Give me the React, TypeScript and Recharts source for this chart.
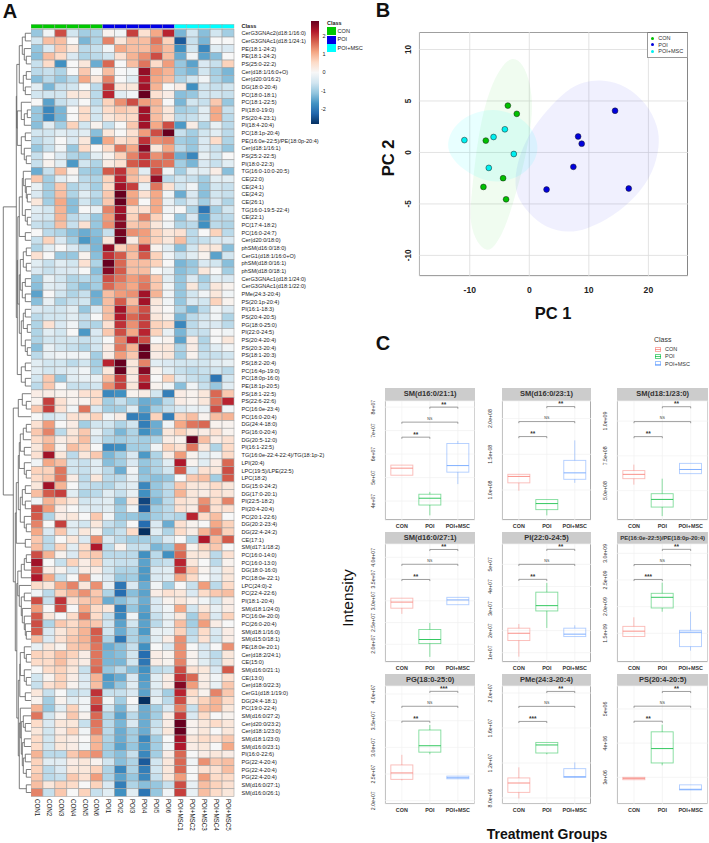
import { Bar, CartesianGrid, ComposedChart, ReferenceLine, Scatter, ScatterChart, XAxis, YAxis } from "recharts";

const FONT = "'Liberation Sans', Arial, sans-serif";

// ---------- A: heatmap ----------
const sampleNames = ["CON1", "CON2", "CON3", "CON4", "CON5", "CON6", "POI1", "POI2", "POI3", "POI4", "POI5", "POI6", "POI+MSC1", "POI+MSC2", "POI+MSC3", "POI+MSC4", "POI+MSC5"];
const sampleClasses = ["CON", "CON", "CON", "CON", "CON", "CON", "POI", "POI", "POI", "POI", "POI", "POI", "MSC", "MSC", "MSC", "MSC", "MSC"];
const classColors: Record<string, string> = { CON: "#00C800", POI: "#0000E6", MSC: "#00FFFF" };
const rdBu = ["#053061", "#2166AC", "#4393C3", "#92C5DE", "#D1E5F0", "#F7F7F7", "#FDDBC7", "#F4A582", "#D6604D", "#B2182B", "#67001F"];

const rowLabels = [
  "CerG3GNAc2(d18:1/16:0)", "CerG3GNAc1(d18:1/24:1)", "PE(18:1-24:2)", "PE(18:1-24:2)", "PS(25:0-22:2)", "Cer(d18:1/16:0+O)", "Cer(d20:0/16:2)", "DG(18:0-20:4)", "PC(18:0-18:1)", "PC(18:1-22:5)",
  "PI(18:0-19:0)", "PS(20:4-23:1)", "PI(18:4-20:4)", "PC(18:1p-20:4)", "PE(16:0e-22:5)/PE(18:0p-20:4)", "Cer(d18:1/16:1)", "PS(25:2-22:5)", "PI(18:0-22:3)", "TG(16:0-10:0-20:5)", "CE(22:0)",
  "CE(24:1)", "CE(24:2)", "CE(26:1)", "TG(16:0-19:5-22:4)", "CE(22:1)", "PC(17:4-18:2)", "PC(16:0-24:7)", "Cer(d20:0/18:0)", "phSM(d16:0/18:0)", "CerG1(d18:1/16:0+O)",
  "phSM(d18:0/16:1)", "phSM(d18:0/18:1)", "CerG3GNAc1(d18:1/24:0)", "CerG3GNAc1(d18:1/22:0)", "PMe(24:3-20:4)", "PS(20:1p-20:4)", "PI(16:1-18:3)", "PS(20:4-20:5)", "PG(18:0-25:0)", "PI(22:0-24:5)",
  "PS(20:4-20:4)", "PS(20:3-20:4)", "PS(18:1-20:3)", "PS(18:2-20:4)", "PC(16:4p-19:0)", "PC(18:0p-16:0)", "PE(18:1p-20:5)", "PS(18:1-22:5)", "PS(22:6-22:6)", "PC(16:0e-23:4)",
  "PC(16:0-20:4)", "DG(24:4-18:0)", "PG(16:0-20:4)", "DG(20:5-12:0)", "PI(16:1-22:5)", "TG(16:0e-22:4-22:4)/TG(18:1p-2)", "LPI(20:4)", "LPC(19:5)/LPE(22:5)", "LPC(18:2)", "DG(15:0-24:2)",
  "DG(17:0-20:1)", "PI(22:5-18:2)", "PI(20:4-20:4)", "PC(20:1-22:6)", "DG(20:2-23:4)", "DG(22:4-24:2)", "CE(17:1)", "SM(d17:1/18:2)", "PC(16:0-14:0)", "PC(16:0-13:0)",
  "DG(18:0-16:0)", "PC(18:0e-22:1)", "LPC(24:0)-2", "PC(22:4-22:6)", "PI(18:1-20:4)", "SM(d18:1/24:0)", "PC(16:0e-20:0)", "PC(26:0-20:4)", "SM(d18:1/16:0)", "SM(d15:0/18:1)",
  "PE(18:0e-20:1)", "Cer(d18:2/24:1)", "CE(15:0)", "SM(d16:0/21:1)", "CE(13:0)", "Cer(d18:0/22:3)", "CerG1(d18:1/19:0)", "DG(24:4-18:1)", "PC(19:0-22:4)", "SM(d16:0/27:2)",
  "Cer(d20:0/23:2)", "Cer(d18:1/23:0)", "SM(d18:1/23:0)", "SM(d16:0/23:1)", "PI(16:0-22:6)", "PG(22:4-20:4)", "PG(22:4-20:4)", "PG(22:4-20:4)", "SM(d16:0/27:1)", "SM(d16:0/26:1)",
];

const heatValues = [
  [-1, -0.1, 1.7, -0.5, -0.9, -0.8, 0.1, -0.1, 1.8, 0.4, 1, 2, -1.2, -0.5, -1.1, -0.5, -0.9],
  [-0.5, 0.8, 0.8, 0, -1.2, -0.8, 1.3, 0.3, 0.8, 0.8, 1.4, 0.6, -2.2, -0.6, -1.2, 0, 0],
  [-1, -0.4, 0.7, 0.3, -0.7, -0.6, -0.1, 1, 0.8, 0.8, 1.2, 0.8, -1.6, -0.5, -1.7, -0.3, -0.4],
  [-1.1, 0.8, 0.5, -0.4, -0.8, -0.7, -0.5, 0.4, 0.9, 1.2, 1.7, 0.8, -1.3, -0.1, -1.4, -1.1, 0],
  [-0.6, 0.5, -1.6, 0, 0.3, -1.3, 1.5, 0, 0.8, 1.4, 0.5, 1.1, -1, -1.4, -0.4, -0.6, 0.6],
  [-0.7, -0.6, -0.8, 0, 0.7, 0, 0.8, 0, -0.1, 2.3, 1.1, 0.9, -1, -1.2, -0.5, -0.9, -1.2],
  [-1.1, -0.7, -1, -0.7, 1, 0.3, 1.3, 0, -0.3, 2.1, 1, 0.8, -0.8, -0.5, -0.1, -0.8, -1.1],
  [-0.3, -1.2, -0.6, -0.5, 0, -0.7, 1.8, 0.3, 0.3, 2.2, 0.9, 0, 0.2, -1.6, -0.5, -0.6, -0.5],
  [-0.5, -0.5, -0.5, 0.3, 0.3, -0.7, 2, -0.3, -0.1, 2.7, 0.4, 0.2, -1.1, -1, -0.5, -0.5, -0.6],
  [0, -1.4, -0.6, -0.4, 0, -0.7, 0.6, 1.2, 1.7, 1.1, 0.9, 0, -1.2, -0.5, -0.6, 0.7, -1],
  [-1, -1.7, -1.2, 0, 0.5, -0.5, 0.5, 0.7, 0.6, 2.2, 0.8, 0.3, -0.9, -0.8, -0.3, 1, -0.6],
  [-1, -1.7, -1.2, 0, 0.5, -0.5, 0.3, 0.5, 0.5, 2.2, 0.8, 0.3, -0.7, -0.6, -0.3, 1, -0.7],
  [-1.1, -0.3, -0.9, 0.6, -0.5, 0.1, -0.6, 0, 0.7, 2.2, 1, 1.7, -1.5, 0.2, -0.8, -0.2, -0.7],
  [-0.5, -0.5, -0.3, -0.4, -0.3, -1.1, 0.3, 0, 0.4, 1.1, 1.7, 2.7, -0.6, -0.9, -0.5, -0.3, -0.7],
  [-0.7, -0.5, 0, -0.4, 0.3, -1.5, 1, 0.4, 0.6, 1.9, 1.2, 1.3, -0.9, -1, -0.4, 0.5, -0.8],
  [-1, -0.6, -0.1, -1, 0.5, 0, 0.5, 1.4, 1, 2.4, 0.3, 1, -0.7, -1, -0.4, -0.6, -1],
  [-0.6, 0, -0.4, -0.8, -0.9, -0.3, 0.1, 0.6, 1.3, 1.9, 1.2, 1.5, -1.3, -1.7, -0.2, -0.5, 0],
  [-0.6, 0.1, -0.3, -1.5, -0.5, -0.8, 0.2, 0.4, 1.6, 1.8, 1.5, 1.4, -0.9, -1.2, -0.4, -0.6, -0.3],
  [-1.3, -0.6, 0.8, 0.1, -0.9, -1, 1.6, 1.9, 0.9, -0.3, 1.7, -0.1, -0.9, -0.3, -0.3, 0.2, -1.1],
  [0.7, -0.9, -0.3, -0.1, -0.7, -0.8, 0.6, 2, 0.8, 0.5, 2.3, -0.7, -0.5, -0.6, -0.9, -0.3, -0.3],
  [-0.2, -0.9, 0.7, -0.8, -0.6, -0.9, 0.5, 2.2, 1.8, -0.2, 1.4, 0.4, -0.5, -0.1, -1, -0.5, -0.6],
  [-0.4, -0.9, 0.8, -0.8, -0.3, -0.7, 0.7, 2.9, 1, 0.4, 1, -0.1, -1.3, -0.4, -1.1, -0.5, -0.6],
  [0.3, -0.9, 1, -1.1, -0.5, -0.9, 0.7, 2.6, 1.1, 0, 1, -0.2, -0.7, -0.4, -0.9, -0.4, -0.8],
  [-0.3, -0.5, 0.9, -1.1, 0, -0.2, 1.3, 2.2, 0.5, 0.4, 1, -0.1, 0, -0.8, -1.9, -0.9, -0.5],
  [-0.4, -0.5, 0.9, -0.7, -0.5, -1, 1.1, 2.3, 0.6, 1.3, 0.6, 0, -1, -0.4, -1.5, -0.7, -0.7],
  [-0.6, -0.7, 0.8, -0.6, 0.4, -1, 1.2, 2.4, 0.7, 0.8, 0.3, -0.1, -0.8, -0.7, -1.6, -0.7, -0.8],
  [0, -0.7, -0.8, -1.1, -1.3, -1.1, -0.6, 2.5, 1.2, 1.1, 0.6, 0.3, 0.4, -0.7, 0, 0.6, -0.7],
  [-0.6, 0.6, -0.4, -0.9, -1.5, -1.2, 0.3, 2.6, 0.2, 1, 0.6, 0.3, 0.8, -0.7, -0.6, -0.4, -0.4],
  [-0.8, -0.3, 0, -0.4, -0.7, -1.2, 2.3, 0.6, 0.9, 1.9, 0.1, -0.3, -1.1, -0.5, 0.3, 0.3, -1.1],
  [0.4, 0, -1, -1, 0.1, -1.1, 1.9, 1.6, 0.8, 1.6, 0.6, -0.1, -0.6, -0.3, 0.1, -1.4, -0.5],
  [-0.3, -0.6, -0.3, -0.5, 0.4, -0.8, 2.6, 1.5, 0.8, 0.8, 0.6, 0, -1.2, -1, -0.4, -0.5, -1.1],
  [-0.4, -0.6, -0.4, -0.4, 0, -1.1, 2.4, 1.6, 0.8, 0.8, 0, -0.2, -1.1, -0.9, 0.3, 0, -0.9],
  [-1, -0.2, -0.5, -0.8, -0.7, -0.9, 1.7, 1.4, 1.1, 1.3, 0.7, -0.3, -1, -0.4, -0.9, -0.3, -0.4],
  [-1.1, -0.3, -0.4, -0.8, -1.1, -0.9, 1.5, 1.2, 1, 1.4, 0.7, -0.1, -1, 0.3, -0.7, 0.3, 0.1],
  [-1.4, 0, -0.5, -0.8, -0.6, -1.3, 0.8, 1.1, 1.2, 2.2, 0.9, -0.1, -1, -0.5, -0.1, 0.3, -0.1],
  [-1.1, -0.2, -0.8, -0.6, -0.5, -1.2, 0.8, 1.6, 0.8, 2.2, 0.3, -0.1, -1, -0.4, -0.5, 0.6, 0.1],
  [-0.4, -0.5, -0.5, -0.3, -1, -0.4, 0.8, 2.2, 1.2, 1.7, 0.2, 0, -0.8, -1.2, -0.7, -0.1, -0.4],
  [-0.7, -0.5, -0.5, -0.3, -0.6, 0, 0.8, 2.1, 1.5, 1.8, 0.3, 0.1, -1.2, -0.7, -0.5, -0.1, -0.8],
  [-0.8, 0.4, -0.4, -0.1, -0.7, -0.8, 0.4, 1.9, 1.2, 1.8, 0.6, 0.5, -1.7, -0.7, -0.4, -0.4, -0.7],
  [-0.8, -0.3, -0.5, 0, -1.5, -0.4, 0.7, 1.7, 1, 2, 0.6, -0.2, -1.2, -0.6, -0.6, 0, -0.1],
  [-0.8, -0.5, -0.5, -0.5, -0.6, -0.5, 0, 1.3, 2.1, 1.7, 0, 0.1, -1.4, 0.2, -0.8, 0, 0.3],
  [-1.1, -0.2, -0.5, -0.6, -0.8, -0.5, 0.2, 1.4, 0.9, 2.6, 0.3, 0.3, -0.8, 0.2, -0.7, -0.3, -0.1],
  [-0.7, -0.2, -0.1, -0.1, -0.1, -0.9, 0.2, 1.1, 0.7, 2.9, 0.2, 0.3, -0.9, 0.1, -0.6, -0.6, -0.5],
  [-0.3, -0.5, -0.5, -0.7, -0.5, -0.9, 2, 2.8, 0.3, 1.3, -0.3, -0.4, -0.5, -0.5, -0.5, -0.3, -0.2],
  [-0.3, -0.5, -0.4, -0.3, -0.1, -0.8, 0.3, 2.8, 0.3, 2.4, 0.1, -0.3, -0.6, -0.7, -0.6, -0.5, -0.7],
  [-0.5, 0.7, -1, -0.3, -0.2, -0.2, 0.8, 1.8, 0.2, 1.9, 0, 0.6, -0.4, -0.6, -0.7, -1.9, -0.5],
  [-0.7, 0.7, 0, -0.6, -0.6, -0.5, 1.2, 1.8, 0.3, 2.2, 0.1, -0.1, -1.1, -0.1, -0.6, -1, -0.3],
  [0.2, 0.2, 0.1, 0.1, 0.4, 0.5, -1.7, -1.6, 0.1, 0.2, -0.5, -1.8, 0.2, 0.1, 0.3, 1.5, 0.7],
  [0.1, 1.8, 0.4, 0.1, 0.1, 0.5, -0.9, -0.6, -0.9, -1.3, -1.2, -0.7, 0.2, 0.1, 0.3, 1.4, 2],
  [0.7, 1.8, 0.4, -0.1, 1.4, -0.4, -0.9, -0.9, -0.3, -1.4, -0.9, -0.6, -0.4, -0.2, -0.2, 1.7, -0.1],
  [0, -0.5, -0.3, 0.4, 0.4, 0.6, -0.1, 0.2, -1.8, -1.7, 0.6, -1.8, 0.6, 0.8, 0.1, 0.8, 0.9],
  [0.4, 1.1, 0, 0.2, -0.9, -0.5, -0.5, -0.8, -0.5, -1.8, -1.3, -0.1, 1, 1.4, 1.5, 0.1, 0.1],
  [0.7, 1.3, -0.7, 0.3, 0.7, -0.2, -0.7, -1.2, -0.8, -1.6, -1.3, 0.3, 0.6, 0.3, 0.2, 0.4, 0.1],
  [0.5, 0.8, 0.2, 0.4, 0.8, -0.4, -0.8, -0.9, -0.8, -0.9, -0.8, 0.2, 0.1, 2.7, 0.8, 0.2, 0.4],
  [0.3, 1, 0.1, 0.8, 0.6, 0, -1.7, -1.6, -0.9, -0.9, -0.1, 0.6, 0.4, 1.4, 0.3, -0.8, 0.5],
  [0.4, 2.2, 0.3, -0.7, 0.3, 0.7, -1.2, -0.9, -0.4, -1.5, -0.8, 0.2, 1.1, 0.1, -0.3, -0.1, 0.5],
  [-0.1, 1, 0.8, -0.5, -0.6, -0.3, -1.1, -0.9, -0.4, -1, -0.8, -0.3, 2.1, 0.1, -0.3, 0.2, 1.5],
  [0.6, 0.6, 1.4, -0.5, -0.6, -0.3, -0.7, -1.3, -0.1, -1.1, -0.8, -0.5, 1.6, -0.4, 0.4, 0.3, 1.7],
  [0.5, 0.7, 1.4, 0.2, -0.7, 0.3, -0.7, -0.7, -0.2, -1, -1.1, -1, 0, 0.7, 0.8, -0.9, 1.6],
  [0.3, 2.2, 0.9, 0, -0.6, -0.7, -0.8, -0.5, -0.3, -1.7, -1, -0.7, 0.7, 0.3, 0.3, 0.5, 0.3],
  [0.8, 1.6, 1.8, -0.3, -0.8, -0.7, -0.3, -0.6, -0.2, -1.6, -1, -0.7, 0.9, 0.3, 0.2, 0.4, 0.3],
  [-0.1, 0.9, 0.6, 0.3, -0.5, -0.4, -0.3, -1.1, 0.3, -2.4, -1.2, -0.7, 0.4, 0.3, 1.2, 0.5, 1.3],
  [1.7, 1.1, 0.2, 0, -0.3, -0.4, -0.3, -0.9, -0.1, -2.2, -0.9, -0.7, 0.4, 0.2, 1.4, 0.4, 0.4],
  [1.6, -0.8, 0.2, 0.3, 0, 0.7, -0.1, -1, -1, -1.2, -0.9, -0.7, -0.8, 2, 0.5, 0.8, 0],
  [1.3, 0, 1.8, -0.3, -0.5, 0.3, -0.6, -0.8, 0, -2, -0.4, -1.3, 0.4, 0.1, 0, 1, 0.6],
  [1, -0.4, 0.7, -0.3, 0.3, 0.1, -0.8, -0.6, 0.5, -2.9, -0.3, -0.8, 0.5, 0.2, 0.9, 1.3, 0.6],
  [0.7, -0.7, 0, 0.3, -0.4, 1.2, -0.4, -0.7, -0.9, -0.9, -0.8, -0.4, 0, -0.8, 2.1, 0.8, 1.6],
  [0.8, -0.7, 0.6, -0.3, 0.5, 2.1, -0.7, 0.1, -0.6, -0.6, -1.2, -1, 1.3, 0.1, 0.6, 0.7, 0],
  [1.7, 0.9, 0.1, -0.4, 0.6, 0.7, -0.7, -0.7, -0.7, -1.6, -0.7, -1.6, 1.5, 0.3, 0.3, -0.7, 0.4],
  [2.2, 0, -0.6, 0.6, 0.2, 0.6, -0.5, -0.6, -0.6, -1.4, -0.7, -0.6, 2, 0.3, 0, -0.7, 0.1],
  [1.8, 0.2, 0.1, -0.4, 0.2, 0.2, -0.5, -0.8, -0.8, -1.5, -0.4, -0.3, 1.8, 0.7, 0.1, -0.3, 0.3],
  [2.1, 1, -0.6, 0, 1.2, -0.1, -0.4, -1, -0.9, -1.5, -0.4, -0.3, 1, 0.5, 0, -0.3, 0.3],
  [0.5, 0.3, 1, 1.3, 0.3, 1.2, -0.2, -1.9, -0.4, -1.3, -0.1, -0.9, 0, -0.6, 1.1, -0.7, 0.5],
  [-0.1, -0.7, 0.6, 0.9, 1.2, 0.7, -0.8, -2, -1.1, -1.4, 0.2, 0.4, 0.3, -0.4, 0.5, 0.7, 0.8],
  [1.7, -0.6, 1.9, 0.4, 0.7, 0.8, -1.3, -1.1, -0.8, -1.3, -0.4, 0.1, 0.3, 0.1, -0.1, -0.5, 0.2],
  [1.1, 0, 1.7, 0, 1, 0.5, 0.3, -1.8, -1, -1.4, -0.4, -0.1, 1, -0.5, 0.3, -0.2, 0.2],
  [1.6, 0.3, 0, 0.5, 1.4, 0.5, -0.6, -1.7, -0.1, -1.5, -0.6, -0.2, 0.3, -0.9, 0.7, -0.4, 0.6],
  [1.7, -0.8, 0.7, 0.5, 0.8, 0.7, -0.5, -1.4, -0.5, -1.4, -0.7, -0.2, 0.8, -0.9, 1.1, 0.2, 0],
  [1.6, -0.4, 0.3, 0.6, 0.9, 1.6, -0.5, -1.3, -0.8, -1.5, -0.2, -0.2, 0.6, -0.7, 0.5, -0.4, 0.2],
  [0.8, -0.4, 0.4, 0.7, 0.9, 1.5, -0.8, -1.9, -0.8, -1.2, -0.3, 0.2, 1.2, -0.6, 0.4, -0.5, 0.2],
  [-0.2, 0.3, 0.1, 0.7, 0.8, 1.4, -1.3, -1.1, -0.6, -1.6, 0, -0.4, 1.2, 0, -0.4, 0, 1.2],
  [0.6, 0.5, 0.8, 0.6, 0.2, 1.4, -1.2, -1.1, -0.5, -2, 0.2, 0.1, 1.2, 0.1, -0.4, -0.7, 0.3],
  [0.5, 0.5, 0.8, 0.4, 0.2, 1.4, -1.2, -1.2, -0.5, -1.9, 0.2, 0.1, 1.3, 0.1, -0.3, -0.6, 0.3],
  [0, 0.5, 0.6, 0.3, -0.6, 1.5, -1, -0.7, -1.1, -1.6, -0.7, -0.6, 1.7, 0.4, 0.3, -0.4, 1.6],
  [-0.5, 0.1, 0.6, 0.2, -0.4, 0.9, -1.5, -1.3, -0.4, -1.5, -0.3, 0.2, 1.9, 1.5, 0.2, -0.1, 0.4],
  [-0.6, 0.4, 0.6, 0.1, -0.3, 0.8, -1.4, -1, -0.3, -1.4, -0.3, 0.2, 2.4, 1.1, 0.2, -0.2, 0.7],
  [0.3, -0.6, 0, -0.6, -0.5, 1.9, -0.6, -0.6, -0.4, -1.4, -0.4, -0.9, 2, 0.5, 0.1, 1.3, 0.7],
  [0.1, -0.9, 0.1, -0.3, -0.1, 1.6, -0.1, -0.9, 0, -2.9, -0.2, -0.7, 1.7, 0.3, 0.6, 0.9, 0.5],
  [0.9, -1, -0.3, 0.6, -0.1, 1.9, -0.5, -1.2, -0.3, -1.3, -0.9, -0.4, 1.3, -0.6, 0.8, 0.9, 0.3],
  [1.4, -0.5, 0.1, 0.7, 0.1, 1.5, -0.8, -1.4, -0.7, -1.3, -0.9, 0.2, 1.8, -0.4, 0.5, 0, 0.1],
  [0.5, -0.4, 0.3, 0.3, -0.6, 1.4, -0.7, -1.2, -0.4, -1.3, -0.6, 0.2, 2.6, 0.1, 0.3, 0.5, 0.3],
  [0.3, -0.5, 0.2, 0.6, -0.1, 1.3, -0.7, -1.3, -0.9, -1.3, -0.5, 0.3, 2.6, 0.1, 0.3, 0, 0.3],
  [0.5, -0.5, 0.3, 0.2, 0, 0.9, -0.8, -1.3, -0.9, -1.7, -0.9, 0, 2.2, 0.3, 0.5, 0.4, 0.7],
  [0.5, -0.5, 0.3, 0.2, -0.1, 0.9, -0.9, -1.4, -1, -1.5, -0.9, -0.1, 2.1, 0.2, 0.3, 0, 1],
  [0.9, -0.7, -0.7, 0.7, 1, 1.2, -0.9, -1.1, -0.6, -1.7, -0.9, 0.2, 1.5, 0, 0.2, 0.3, 0.2],
  [0.6, -0.3, -0.3, 0.2, 0.3, 0.1, -0.5, -1.1, -0.8, -2.2, -0.5, 0.3, 1.5, -0.1, 1.2, 0.7, 0.8],
  [0.6, -0.7, -0.4, 0.3, 0.3, 0.6, -0.8, -1.7, -0.8, -1.8, -0.5, 0.3, 1.5, 0, 0.4, 0.4, 0.8],
  [0.7, -0.7, -0.6, 0.7, 0.4, 1.1, -0.8, -1.4, -1, -1.7, -0.6, 0.3, 1.1, 0, 1.1, 0.5, 0.5],
  [0.8, 0.3, 0.6, 0.5, 0, 0.6, -0.4, -1.8, -0.8, -1.1, -1, -0.6, 1.7, -0.2, 0.8, 0.6, 0.4],
  [1.3, -0.6, 0.7, 0, 0.6, -0.6, -0.3, -1.6, -0.3, -1.9, -1, -0.1, 1.8, -0.2, 0.8, 0.5, 0.3],
];

// row dendrogram as [height, upper, lower], 0 is a leaf; leaves run in row order
type Tree = 0 | [number, Tree, Tree];
const dendroRows1to18: Tree = [14.5,
  [12, [9, [6, 0, 0], [7, 0, [5, 0, 0]]], [8, [5, 0, 0], [6, 0, 0]]],
  [14, [10, 0, [7, [4, 0, 0], 0]], [10, [6, 0, 0], [7, 0, [5, 0, 0]]]]];
const dendroRows19to47: Tree = [14,
  [13.5,
    [12, [9, [8, 0, [6, 0, [5, 0, [4, 0, 0]]]], [6, 0, [4, 0, 0]]], [6, 0, 0]],
    [12, [11, [8, [5, 0, 0], [5, 0, 0]], [9, [6, 0, 0], [6, 0, 0]]], [10, [8, [6, 0, 0], [4, 0, 0]], [6, 0, [4, 0, 0]]]]],
  [10, [6, 0, 0], [6, 0, 0]]];
const dendroRows52to68: Tree = [15,
  [13, [12, [11, [8, [5, 0, 0], 0], [7, 0, 0]], [7, 0, [5, 0, 0]]], [11, [9, [6, 0, 0], [6, 0, 0]], [7, 0, [5, 0, 0]]]],
  [6, 0, 0]];
const dendroRows69to100: Tree = [14.5,
  [13.5, [10, [7, [5, 0, 0], 0], 0], [12, 0, [10, [7, 0, 0], [9, 0, [7, 0, [6, 0, [5, 0, 0]]]]]]],
  [13,
    [11.5, [11, [7, 0, [5, 0, 0]], [7, 0, [5, 0, 0]]], [6, 0, 0]],
    [12, [11, 0, [10, [8, 0, [6, 0, 0]], [9, [7, 0, 0], [8, [6, 0, 0], [5, 0, 0]]]]], [5, 0, 0]]]];
const dendroRoot: Tree = [28,
  [15, dendroRows1to18, dendroRows19to47],
  [18, [13, [9, 0, [5, 0, 0]], 0], [16, dendroRows52to68, dendroRows69to100]]];

// ---------- B: PCA ----------
const pcaCon = [[-3.6, 4.55], [-2.1, 3.75], [-7.3, 1.15], [-4.4, -2.5], [-7.7, -3.35], [-3.9, -4.55]];
const pcaPoi = [[14.4, 4.05], [8.2, 1.55], [8.8, 0.85], [7.4, -1.4], [2.9, -3.6], [16.7, -3.5]];
const pcaMsc = [[-10.9, 1.2], [-6, 1.5], [-4.1, 2.25], [-2.6, -0.15], [-6.8, -1.5]];
const hullCon = [[-2.7, 9.3], [-1, 8.6], [0.2, 6.7], [0.6, 4.4], [0.1, 1.8], [-1, -1.4], [-2.4, -4.3], [-4.1, -7.5], [-6, -9.3], [-7.2, -9.6], [-8.8, -8.8], [-10, -6.9], [-9.8, -4.6], [-9.1, -0.7], [-8, 3.5], [-6.3, 6.7], [-4.4, 8.6]];
const hullPoi = [[12.4, 7.1], [16.3, 6.5], [19.7, 4.8], [21.7, 2.5], [21.9, 0.6], [20.8, -2], [18, -4.3], [14.1, -6.2], [9.6, -7.5], [6.5, -7.8], [2.9, -7.4], [-0.2, -5.9], [-2.1, -4.3], [-2.5, -2.7], [-1.8, -0.4], [0.1, 2], [2.9, 4.1], [6.3, 6.1], [9.1, 6.9]];
const hullMsc = [[-6, 4.3], [-2.7, 3.8], [0.1, 2.7], [1.6, 0.9], [1.2, -0.7], [-1, -2.2], [-4.4, -2.9], [-7.7, -2.8], [-11.1, -1.7], [-13.3, -0.4], [-13.9, 0.9], [-12.8, 2.5], [-10, 3.8]];
const pcaXTicks = [-10, 0, 10, 20];
const pcaYTicks = [-10, -5, 0, 5, 10];

// ---------- C: box plots, each box is [low, q1, median, q3, high] ----------
const groups = ["CON", "POI", "POI+MSC"];
const groupColors = ["#F8766D", "#00BA38", "#619CFF"];
const panelTitles = ["SM(d16:0/21:1)", "SM(d16:0/23:1)", "SM(d18:1/23:0)", "SM(d16:0/27:1)", "PI(22:0-24:5)", "PE(16:0e-22:5)/PE(18:0p-20:4)", "PG(18:0-25:0)", "PMe(24:3-20:4)", "PS(20:4-20:5)"];
const panelBoxes = [
  [[5.1, 5.1, 5.4, 5.53, 5.53], [3.39, 3.83, 4.12, 4.29, 4.39], [4.72, 5.23, 5.51, 6.45, 6.56]],
  [[0.99, 1.1, 1.19, 1.22, 1.22], [0.645, 0.725, 0.81, 0.866, 0.866], [1.1, 1.15, 1.24, 1.415, 1.695]],
  [[5.43, 5.86, 6.17, 6.44, 6.87], [3.17, 3.82, 4.37, 4.78, 5.86], [6.22, 6.22, 6.52, 6.96, 6.96]],
  [[2.7, 2.83, 2.97, 3.06, 3.06], [1.71, 2.016, 2.11, 2.34, 2.49], [2.91, 2.91, 3.02, 3.08, 3.08]],
  [[0.82, 1.55, 1.88, 2.11, 2.3], [2.12, 2.89, 3.13, 3.74, 4.16], [1.73, 1.73, 1.84, 2.11, 2.24]],
  [[1.44, 1.44, 1.54, 1.63, 1.8], [1.905, 1.975, 2.175, 2.25, 2.45], [1.175, 1.25, 1.52, 1.556, 1.905]],
  [[2.38, 2.4, 2.52, 2.67, 2.86], [2.87, 2.91, 3.03, 3.325, 3.42], [2.41, 2.41, 2.43, 2.46, 2.46]],
  [[7.95, 8.64, 9.71, 10.29, 11.5], [12.99, 13.14, 14.06, 14.35, 14.35], [10.35, 10.35, 10.43, 11.35, 12.07]],
  [[2.93, 2.93, 2.97, 3, 3], [3.35, 3.42, 3.84, 4.33, 4.54], [2.63, 2.63, 2.65, 2.78, 2.78]],
];
const panelDomains = [[3.18, 8.26], [0.576, 2.246], [2.87, 11.44], [1.586, 4.306], [0.566, 5.92], [0.956, 3.175], [1.938, 4.15], [7.31, 20.8], [2.22, 5.67]];
const panelTicks = [[4, 5, 6, 7, 8], [1, 1.5, 2], [5, 7.5, 10], [2, 2.5, 3, 3.5, 4], [1, 2, 3, 4, 5], [1.5, 2, 2.5, 3], [2, 2.5, 3, 3.5, 4], [8, 12, 16, 20], [3, 4, 5]];
const panelTickLabels = [
  ["4e+07", "5e+07", "6e+07", "7e+07", "8e+07"],
  ["1.0e+08", "1.5e+08", "2.0e+08"],
  ["5.0e+08", "7.5e+08", "1.0e+09"],
  ["2.0e+07", "2.5e+07", "3.0e+07", "3.5e+07", "4.0e+07"],
  ["1e+07", "2e+07", "3e+07", "4e+07", "5e+07"],
  ["1.5e+09", "2.0e+09", "2.5e+09", "3.0e+09"],
  ["2.0e+07", "2.5e+07", "3.0e+07", "3.5e+07", "4.0e+07"],
  ["8.0e+06", "1.2e+07", "1.6e+07", "2.0e+07"],
  ["3e+06", "4e+06", "5e+06"],
];
// bracket heights: POI to POI+MSC, CON to POI+MSC, CON to POI
const panelBrackets = [[8, 7.36, 6.72], [2.168, 1.958, 1.748], [11.03, 9.96, 8.88], [4.18, 3.84, 3.49], [5.68, 5, 4.32], [3.075, 2.79, 2.51], [4.05, 3.77, 3.49], [20.18, 18.47, 16.75], [5.51, 5.08, 4.64]];
const panelStars = [["**", "NS", "**"], ["**", "NS", "**"], ["**", "NS", "**"], ["**", "NS", "**"], ["**", "NS", "**"], ["**", "NS", "***"], ["***", "NS", "**"], ["**", "NS", "***"], ["**", "NS", "**"]];
const bracketSpans = [["POI", "POI+MSC"], ["CON", "POI+MSC"], ["CON", "POI"]];

function heatColor(v: number) {
  // cells read a little paler than the printed ramp, so the cell ramp saturates a bit sooner than the bar
  const t = Math.max(0, Math.min(0.9999, (v + 2.6) / 5.2)) * (rdBu.length - 1);
  const i = Math.floor(t);
  const f = t - i;
  const a = rdBu[i];
  const b = rdBu[i + 1];
  const ch = (s: string, k: number) => parseInt(s.slice(1 + k * 2, 3 + k * 2), 16);
  const mix = (k: number) => Math.round(ch(a, k) + (ch(b, k) - ch(a, k)) * f);
  return `rgb(${mix(0)},${mix(1)},${mix(2)})`;
}

const CELL_W = 203 / 17;
const CELL_H = 7.67;
const heatData = heatValues.flatMap((row, r) => row.map((v, c) => ({ col: c + 0.5, row: r + 0.5, v })));
const classData = sampleClasses.map((c, i) => ({ col: i + 0.5, row: -0.4, cls: c }));

function HeatCell({ cx, cy, payload }: any) {
  return <rect x={cx - CELL_W / 2} y={cy - CELL_H / 2} width={CELL_W} height={CELL_H} fill={heatColor(payload.v)} stroke="#a3a3a3" strokeWidth={0.6} />;
}
function ClassCell({ cx, cy, payload }: any) {
  return <rect x={cx - CELL_W / 2} y={cy - 2} width={CELL_W} height={4} fill={classColors[payload.cls]} stroke="#a3a3a3" strokeWidth={0.4} />;
}
function RowTick({ x, y, payload }: any) {
  const isClass = payload.value < 0;
  const label = isClass ? "Class" : rowLabels[Math.floor(payload.value)];
  return (
    <text x={x - 0.5} y={y + 2.1} fontSize={5.6} fontFamily={FONT} fontWeight={isClass ? 700 : 400} fill="#222">
      {label}
    </text>
  );
}
function SampleTick({ x, y, payload }: any) {
  const label = sampleNames[Math.floor(payload.value)];
  return (
    <text transform={`translate(${x - 2.2},${y - 5.5}) rotate(90)`} fontSize={6.3} fontFamily={FONT} fill="#222">
      {label}
    </text>
  );
}

function collectLinks(node: Tree, next: { leaf: number }, out: { h: number; row: number }[][]): { h: number; row: number } {
  if (node === 0) {
    const row = next.leaf + 0.5;
    next.leaf += 1;
    return { h: 0, row };
  }
  const [h, upper, lower] = node;
  const a = collectLinks(upper, next, out);
  const b = collectLinks(lower, next, out);
  out.push([
    { h: a.h, row: a.row },
    { h, row: a.row },
    { h, row: b.row },
    { h: b.h, row: b.row },
  ]);
  return { h, row: (a.row + b.row) / 2 };
}
const dendroLinks: { h: number; row: number }[][] = [];
collectLinks(dendroRoot, { leaf: 0 }, dendroLinks);

const noDot = () => <g />;

function Heatmap() {
  const rowTicks = [-0.4, ...rowLabels.map((_, i) => i + 0.5)];
  const colTicks = sampleNames.map((_, i) => i + 0.5);
  return (
    <>
      <div style={{ position: "absolute", left: 0, top: 23.6 }}>
        <ScatterChart width={31.3} height={772.4} margin={{ top: 0, right: 0, bottom: 0, left: 0 }}>
          <XAxis type="number" dataKey="h" domain={[0, 31.3]} reversed hide />
          <YAxis type="number" dataKey="row" domain={[-0.7, 100]} reversed hide />
          {dendroLinks.map((link, i) => (
            <Scatter key={i} data={link} shape={noDot} line={{ stroke: "#5c5c5c", strokeWidth: 0.8 }} fill="#5c5c5c" isAnimationActive={false} />
          ))}
        </ScatterChart>
      </div>
      <div style={{ position: "absolute", left: 31.3, top: 23.6 }}>
        <ScatterChart width={320} height={820.4} margin={{ top: 0, right: 0, bottom: 0, left: 0 }}>
          <XAxis type="number" dataKey="col" domain={[0, 17]} ticks={colTicks} interval={0} height={48} tick={<SampleTick />} tickLine={false} axisLine={false} />
          <YAxis type="number" dataKey="row" domain={[-0.7, 100]} ticks={rowTicks} interval={0} reversed orientation="right" width={117} tick={<RowTick />} tickLine={false} axisLine={false} />
          <Scatter data={heatData} shape={<HeatCell />} isAnimationActive={false} />
          <Scatter data={classData} shape={<ClassCell />} isAnimationActive={false} />
        </ScatterChart>
      </div>
    </>
  );
}

function HeatLegend() {
  const colorTicks = [2, 1, 0, -1, -2];
  const gradient = `linear-gradient(to bottom, ${[...rdBu].reverse().join(",")})`;
  return (
    <>
      <div style={{ position: "absolute", left: 311, top: 21, width: 7.5, height: 103, background: gradient }} />
      {colorTicks.map((t) => (
        <div key={t} style={{ position: "absolute", left: t < 0 ? 321 : 322.5, top: 72.7 - t * 18.3 - 3.5, fontSize: 5.5, lineHeight: "7px", fontFamily: FONT, color: "#222" }}>
          {t}
        </div>
      ))}
      <div style={{ position: "absolute", left: 327, top: 19.5, fontSize: 5.5, lineHeight: "7px", fontWeight: 700, fontFamily: FONT, color: "#222" }}>Class</div>
      {["CON", "POI", "POI+MSC"].map((c, i) => (
        <div key={c}>
          <div style={{ position: "absolute", left: 327.3, top: 27.3 + i * 8.4, width: 8.6, height: 8.2, background: [classColors.CON, classColors.POI, classColors.MSC][i] }} />
          <div style={{ position: "absolute", left: 337.5, top: 27.8 + i * 8.4, fontSize: 5.6, lineHeight: "7px", fontFamily: FONT, color: "#222" }}>{c}</div>
        </div>
      ))}
    </>
  );
}

const toXY = (pts: number[][]) => pts.map(([x, y]) => ({ x, y }));
const pcaDot = (fill: string) => ({ cx, cy }: any) => <circle cx={cx} cy={cy} r={2.9} fill={fill} stroke="#1a1a1a" strokeWidth={0.5} />;

function PcaTickX({ x, y, payload }: any) {
  return <text x={x} y={y + 9} textAnchor="middle" fontSize={8.6} fontWeight={700} fontFamily={FONT} fill="#222">{payload.value}</text>;
}
function PcaTickY({ x, y, payload }: any) {
  return <text transform={`translate(${x},${y}) rotate(-90)`} textAnchor="middle" fontSize={8.2} fontWeight={700} fontFamily={FONT} fill="#222">{payload.value}</text>;
}

function PcaPlot() {
  return (
    <div style={{ position: "absolute", left: 390, top: 31.7 }}>
      <ScatterChart width={298.3} height={264} margin={{ top: 0, right: 0, bottom: 0, left: 0 }}>
        <CartesianGrid stroke="#dcdcdc" strokeWidth={0.8} />
        <XAxis type="number" dataKey="x" domain={[-18.47, 26.7]} ticks={pcaXTicks} height={20} tick={<PcaTickX />} tickLine={false} axisLine={false} allowDataOverflow />
        <YAxis type="number" dataKey="y" domain={[-12, 11.7]} ticks={pcaYTicks} width={29.3} tick={<PcaTickY />} tickLine={false} axisLine={false} allowDataOverflow />
        <Scatter data={toXY(hullCon)} shape={noDot} fill="#00C800" line={{ fill: "#00C800", fillOpacity: 0.06, stroke: "none" }} lineJointType="basisClosed" isAnimationActive={false} />
        <Scatter data={toXY(hullPoi)} shape={noDot} fill="#0000E6" line={{ fill: "#0000E6", fillOpacity: 0.06, stroke: "none" }} lineJointType="basisClosed" isAnimationActive={false} />
        <Scatter data={toXY(hullMsc)} shape={noDot} fill="#00FFFF" line={{ fill: "#00FFFF", fillOpacity: 0.09, stroke: "none" }} lineJointType="basisClosed" isAnimationActive={false} />
        <Scatter data={toXY(pcaCon)} shape={pcaDot("#00C000")} isAnimationActive={false} />
        <Scatter data={toXY(pcaPoi)} shape={pcaDot("#0000DC")} isAnimationActive={false} />
        <Scatter data={toXY(pcaMsc)} shape={pcaDot("#00F0F0")} isAnimationActive={false} />
      </ScatterChart>
    </div>
  );
}

function PcaFrame() {
  return (
    <>
      <div style={{ position: "absolute", left: 419.3, top: 31.7, width: 269, height: 244.3, boxSizing: "border-box", border: "1px solid #777" }} />
    </>
  );
}

function PcaLegend() {
  return (
    <>
      <div style={{ position: "absolute", left: 646.7, top: 31.7, width: 41.6, height: 26, boxSizing: "border-box", background: "#fff", border: "1px solid #999", borderTop: "1px solid #777" }} />
      {["CON", "POI", "POI+MSC"].map((c, i) => (
        <div key={c}>
          <div style={{ position: "absolute", left: 650.8, top: 36.8 + i * 6.5, width: 3, height: 3, borderRadius: 2, background: ["#00C000", "#0000DC", "#00F0F0"][i] }} />
          <div style={{ position: "absolute", left: 658.3, top: 35.3 + i * 6.5, fontSize: 5.5, lineHeight: "6px", fontFamily: FONT, color: "#333" }}>{c}</div>
        </div>
      ))}
    </>
  );
}

function BoxShape({ x, y, width, height, payload }: any) {
  const [low, q1, median, q3, high] = payload.box;
  const color = payload.color;
  const span = high - low;
  const py = (v: number) => y + ((high - v) * height) / span;
  const cx = x + width / 2;
  return (
    <g fill="none" stroke={color}>
      <path d={`M${cx},${py(high)}V${py(q3)}M${cx},${py(q1)}V${py(low)}`} strokeOpacity={0.5} strokeWidth={0.9} />
      <rect x={x} y={py(q3)} width={width} height={py(q1) - py(q3)} strokeOpacity={0.5} strokeWidth={0.9} />
      <line x1={x} x2={x + width} y1={py(median)} y2={py(median)} strokeOpacity={0.8} strokeWidth={1} />
    </g>
  );
}

function Bracket({ x1, x2, y1, label }: any) {
  const isNs = label === "NS";
  return (
    <g>
      <path d={`M${x1},${y1 + 1.6}V${y1}H${x2}V${y1 + 1.6}`} fill="none" stroke="#777" strokeWidth={0.7} />
      <text x={(x1 + x2) / 2} y={isNs ? y1 - 2.5 : y1 - 0.5} textAnchor="middle" fontSize={isNs ? 3.6 : 6.5} fontWeight={isNs ? 400 : 700} fontFamily={FONT} fill="#333">
        {label}
      </text>
    </g>
  );
}

const COL_LEFT = [385.3, 501.7, 617.3];
const COL_WIDTH = [89.7, 89.6, 90.7];
const ROW_STRIP = [388.3, 531.7, 673.7];
const ROW_PLOT_TOP = [400.7, 544, 686.3];
const ROW_PLOT_BOTTOM = [520, 662.3, 804.3];
const AXIS_W = 30;
const TOP_ROOM = 8;

function BoxPanel({ index }: { index: number }) {
  const col = index % 3;
  const rowIdx = Math.floor(index / 3);
  const left = COL_LEFT[col];
  const w = COL_WIDTH[col];
  const plotTop = ROW_PLOT_TOP[rowIdx];
  const plotH = ROW_PLOT_BOTTOM[rowIdx] - plotTop;
  const title = panelTitles[index];
  const data = groups.map((g, i) => ({ name: g, box: panelBoxes[index][i], color: groupColors[i] }));
  const ticks = panelTicks[index];
  const labels = panelTickLabels[index];
  const YTick = ({ x, y, payload }: any) => (
    <text transform={`translate(${x - 2},${y}) rotate(-90)`} textAnchor="middle" fontSize={5.2} fontFamily={FONT} fill="#333">
      {labels[ticks.indexOf(payload.value)]}
    </text>
  );
  const XTick = ({ x, y, payload }: any) => (
    <text x={x} y={y} textAnchor="middle" fontSize={5.4} fontWeight={700} fontFamily={FONT} fill="#333">
      {payload.value}
    </text>
  );
  return (
    <>
      <div style={{ position: "absolute", left, top: ROW_STRIP[rowIdx], width: w, height: plotTop - ROW_STRIP[rowIdx], background: "#CCCCCC", textAlign: "center", fontSize: title.length > 20 ? 6 : 7.5, fontWeight: 700, lineHeight: `${plotTop - ROW_STRIP[rowIdx]}px`, fontFamily: FONT, color: "#333", whiteSpace: "nowrap" }}>
        {title}
      </div>
      <div style={{ position: "absolute", left, top: plotTop, width: w, height: plotH, boxSizing: "border-box", border: "1px solid #ababab", borderTop: "none" }} />
      <div style={{ position: "absolute", left: left - AXIS_W, top: plotTop - TOP_ROOM }}>
        <ComposedChart width={w + AXIS_W} height={plotH + 12 + TOP_ROOM} data={data} margin={{ top: TOP_ROOM, right: 0, bottom: 0, left: 0 }} barCategoryGap={3}>
          <CartesianGrid stroke="#f1f1f1" strokeWidth={0.7} />
          <XAxis dataKey="name" height={12} padding={{ left: 2.85, right: 2.85 }} interval={0} tick={<XTick />} tickLine={false} axisLine={false} />
          <YAxis type="number" domain={panelDomains[index]} ticks={ticks} interval={0} width={AXIS_W} tick={<YTick />} tickLine={false} axisLine={false} allowDataOverflow />
          <Bar dataKey={(d: any) => [d.box[0], d.box[4]]} barSize={22} shape={<BoxShape />} isAnimationActive={false} />
          {panelBrackets[index].map((v, i) => (
            <ReferenceLine key={i} segment={[{ x: bracketSpans[i][0], y: v }, { x: bracketSpans[i][1], y: v }]} shape={(p: any) => <Bracket {...p} label={panelStars[index][i]} />} />
          ))}
        </ComposedChart>
      </div>
    </>
  );
}

function BoxLegend() {
  return (
    <>
      <div style={{ position: "absolute", left: 654, top: 335, fontSize: 7, lineHeight: "9px", fontFamily: FONT, color: "#333" }}>Class</div>
      {groups.map((g, i) => (
        <div key={g}>
          <div style={{ position: "absolute", left: 655, top: 346.8 + i * 7.3, width: 5.5, height: 4.8, boxSizing: "border-box", border: `0.8px solid ${groupColors[i]}`, opacity: 0.6 }} />
          <div style={{ position: "absolute", left: 655, top: 349 + i * 7.3, width: 5.5, height: 0.8, background: groupColors[i], opacity: 0.7 }} />
          <div style={{ position: "absolute", left: 665, top: 346 + i * 7.3, fontSize: 5.5, lineHeight: "7px", fontFamily: FONT, color: "#333" }}>{g}</div>
        </div>
      ))}
    </>
  );
}

function BigText({ left, top, size, bold = true, rotate = false, children }: any) {
  return (
    <div style={{ position: "absolute", left, top, fontSize: size, lineHeight: 1, fontWeight: bold ? 700 : 400, fontFamily: FONT, color: "#111", whiteSpace: "nowrap", transform: rotate ? "translate(-50%,-50%) rotate(-90deg)" : "translate(-50%,-50%)" }}>
      {children}
    </div>
  );
}

export default function App() {
  return (
    <div style={{ position: "absolute", left: 0, top: 0, width: 709, height: 843, overflow: "hidden", background: "#fff" }}>
      <BigText left={10} top={11} size={20}>A</BigText>
      <BigText left={383} top={10} size={20}>B</BigText>
      <BigText left={383} top={343} size={20}>C</BigText>
      <Heatmap />
      <HeatLegend />
      <PcaFrame />
      <PcaPlot />
      <PcaLegend />
      <BigText left={388} top={158} size={16.5} rotate>PC 2</BigText>
      <BigText left={553} top={313} size={16.5}>PC 1</BigText>
      <BoxLegend />
      {panelTitles.map((_, i) => (
        <BoxPanel key={i} index={i} />
      ))}
      <BigText left={348} top={598} size={15.5} bold={false} rotate>Intensity</BigText>
      <BigText left={547} top={834} size={14}>Treatment Groups</BigText>
    </div>
  );
}
